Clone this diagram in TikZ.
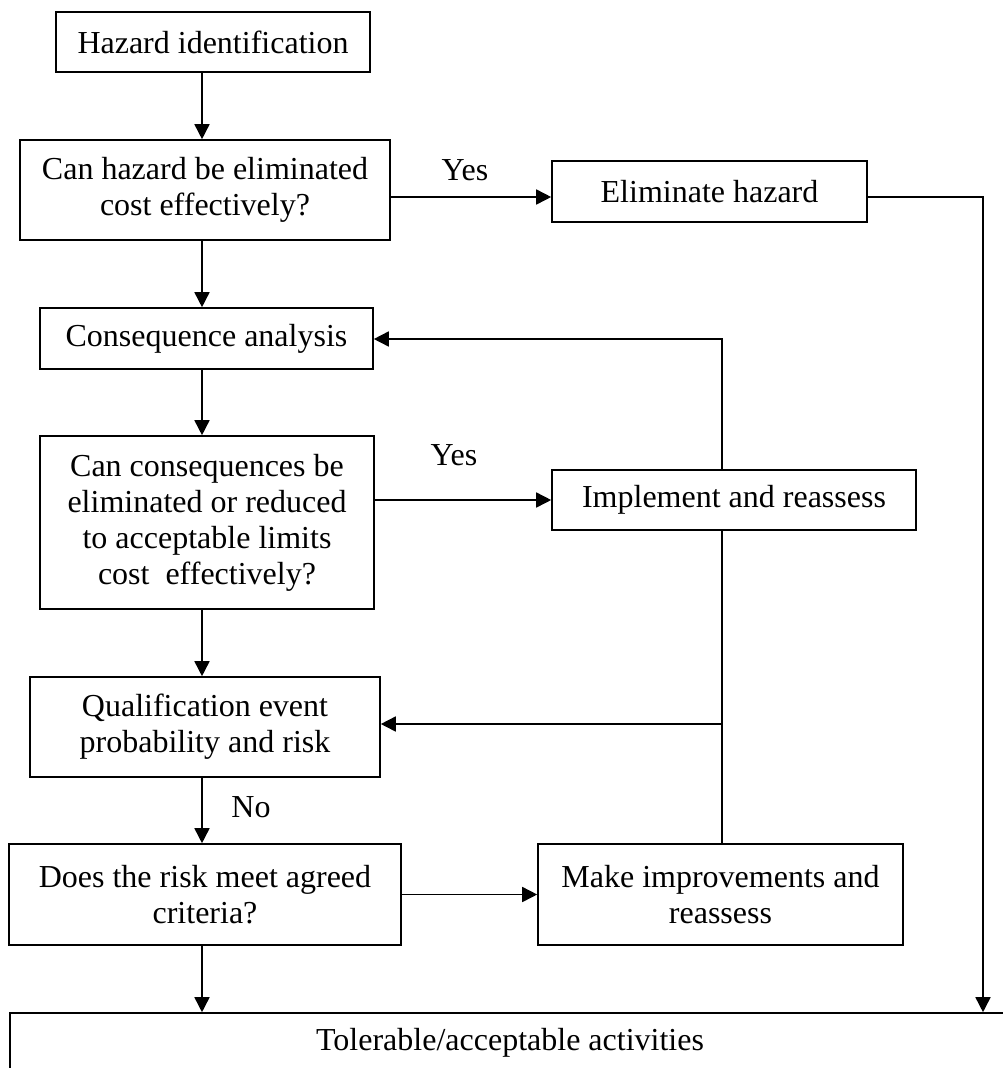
\documentclass[tikz,border=0pt]{standalone}
\usepackage{fontspec}
\setmainfont{Liberation Serif}
\usetikzlibrary{arrows.meta}
\begin{document}
\begin{tikzpicture}[x=1pt,y=-1pt,
  box/.style={draw,line width=1.6pt,inner sep=0pt,align=center,
    font=\fontsize{32}{36}\selectfont},
  lbl/.style={inner sep=0pt,font=\fontsize{32}{36}\selectfont},
  flow/.style={line width=1.6pt,-{Triangle[length=15pt,width=15pt]}},
  link/.style={line width=1.6pt}]
\useasboundingbox (0,0) rectangle (1003,1068);

% boxes
\node[box,minimum width=314pt,minimum height=60pt] (A) at (213,42) {Hazard identification};
\node[box,minimum width=370pt,minimum height=100pt] (B) at (205,190) {Can hazard be eliminated\\cost effectively?};
\node[box,minimum width=315pt,minimum height=61pt] (C) at (709.5,191.5) {Eliminate hazard};
\node[box,minimum width=333pt,minimum height=61pt] (D) at (206.5,338.5) {Consequence analysis};
\node[box,minimum width=334pt,minimum height=173pt] (E) at (207,522.5) {Can consequences be\\eliminated or reduced\\to acceptable limits\\cost~ effectively?};
\node[box,minimum width=364pt,minimum height=60pt] (F) at (734,500) {Implement and reassess};
\node[box,minimum width=350pt,minimum height=100pt] (G) at (205,727) {Qualification event\\probability and risk};
\node[box,minimum width=392pt,minimum height=101pt] (H) at (205,894.5) {Does the risk meet agreed\\criteria?};
\node[box,minimum width=365pt,minimum height=101pt] (I) at (720.5,894.5) {Make improvements and\\reassess};
\node[box,minimum width=1000pt,minimum height=60pt] (J) at (510,1043) {Tolerable/acceptable activities};

% guide coordinates
\coordinate (spine) at (202,0);
\coordinate (loop) at (722,0);
\coordinate (side) at (983,0);
\coordinate (ybc) at (0,197);
\coordinate (yback) at (0,339);
\coordinate (yjoin) at (0,724);

% main column
\draw[flow] (A.south -| spine) -- (B.north -| spine);
\draw[flow] (B.south -| spine) -- (D.north -| spine);
\draw[flow] (D.south -| spine) -- (E.north -| spine);
\draw[flow] (E.south -| spine) -- (G.north -| spine);
\draw[flow] (G.south -| spine) -- (H.north -| spine);
\node[lbl] (no) at (251,807) {No};
\draw[flow] (H.south -| spine) -- (J.north -| spine);

% branches
\draw[flow] (B.east |- ybc) -- (C.west |- ybc);
\node[lbl] (yes1) at (465,170) {Yes};
\draw[flow] (C.east |- ybc) -- (side |- ybc) -- (J.north -| side);
\draw[flow] (E.east |- F.west) -- (F.west);
\node[lbl] (yes2) at (454,455) {Yes};
\draw[flow] (F.north -| loop) -- (loop |- yback) -- (D.east |- yback);
\draw[link] (I.north -| loop) -- (F.south -| loop);
\draw[flow] (loop |- yjoin) -- (G.east |- yjoin);
\draw[flow] (H.east |- I.west) -- (I.west);
\end{tikzpicture}
\end{document}
